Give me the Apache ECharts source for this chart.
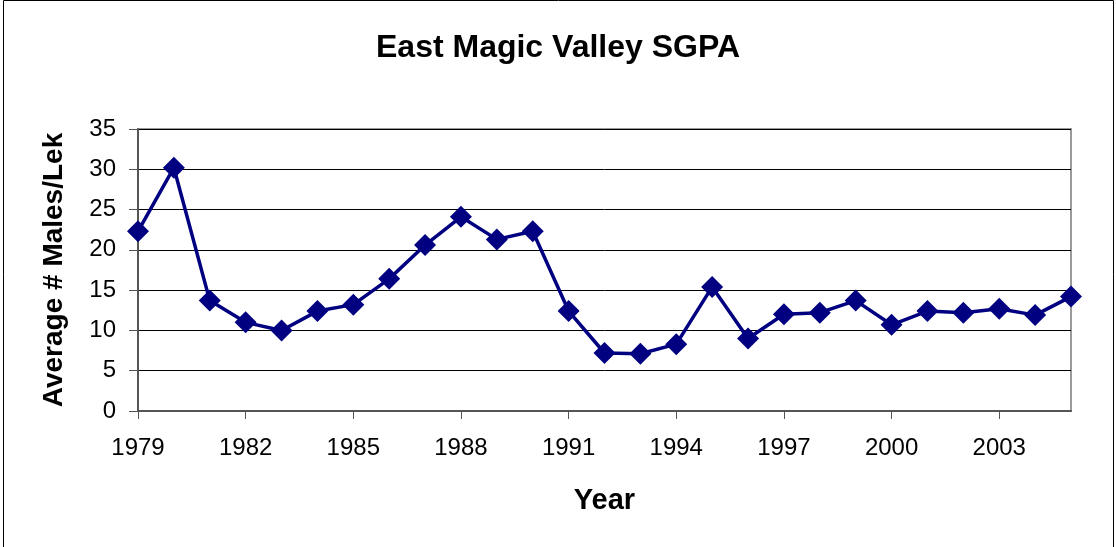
<!DOCTYPE html>
<html>
<head>
<meta charset="utf-8">
<script src="https://cdn.jsdelivr.net/npm/echarts@6/dist/echarts.min.js"></script>
<style>
  html, body { margin: 0; padding: 0; background: #fff; }
  #chart { width: 1116px; height: 547px; }
</style>
</head>
<body>
<div id="chart"></div>
<script>
const years = ['1979', '1980', '1981', '1982', '1983', '1984', '1985', '1986', '1987',
  '1988', '1989', '1990', '1991', '1992', '1993', '1994', '1995', '1996', '1997',
  '1998', '1999', '2000', '2001', '2002', '2003', '2004', '2005']
const malesPerLek = [22.3, 30.2, 13.7, 11.0, 10.0, 12.4, 13.2, 16.4, 20.6,
  24.1, 21.3, 22.3, 12.4, 7.2, 7.1, 8.3, 15.4, 9.0, 12.0,
  12.2, 13.7, 10.7, 12.4, 12.2, 12.7, 11.9, 14.2]

const font = 'Arial, "Liberation Sans", sans-serif'
const chart = echarts.init(document.getElementById('chart'))

chart.setOption({
  animation: false,
  title: {
    text: 'East Magic Valley SGPA',
    left: 'center',
    top: 27,
    textStyle: { fontFamily: font, fontSize: 32, fontWeight: 'bold', color: '#000' }
  },
  graphic: [
    {
      type: 'rect',
      shape: { x: 3.5, y: 0.5, width: 1110, height: 560 },
      style: { fill: 'none', stroke: '#000', lineWidth: 1 },
      silent: true
    }
  ],
  grid: { left: 138, right: 45, top: 129, bottom: 136, show: true, borderColor: '#9a9a9a', borderWidth: 2 },
  xAxis: {
    type: 'category',
    data: years,
    boundaryGap: false,
    name: 'Year',
    nameLocation: 'middle',
    nameGap: 75,
    nameTextStyle: { fontFamily: font, fontSize: 29, fontWeight: 'bold', color: '#000' },
    axisLine: { lineStyle: { color: '#555', width: 2 } },
    axisTick: { interval: 2, length: 8, lineStyle: { color: '#555' } },
    axisLabel: { interval: 2, margin: 25, fontFamily: font, fontSize: 24, color: '#000' },
    splitLine: { show: false }
  },
  yAxis: {
    type: 'value',
    min: 0,
    max: 35,
    interval: 5,
    name: 'Average # Males/Lek',
    nameLocation: 'middle',
    nameGap: 70,
    nameTextStyle: { fontFamily: font, fontSize: 28, fontWeight: 'bold', color: '#000' },
    axisLine: { show: true, lineStyle: { color: '#555', width: 2 } },
    axisTick: { show: true, length: 9, lineStyle: { color: '#555' } },
    axisLabel: { margin: 22, fontFamily: font, fontSize: 24, color: '#000' },
    splitLine: { lineStyle: { color: '#000', width: 1 } }
  },
  series: [
    {
      type: 'line',
      data: malesPerLek,
      symbol: 'diamond',
      symbolSize: 22,
      lineStyle: { color: '#000080', width: 3.5 },
      itemStyle: { color: '#000080' }
    }
  ]
})
</script>
</body>
</html>
